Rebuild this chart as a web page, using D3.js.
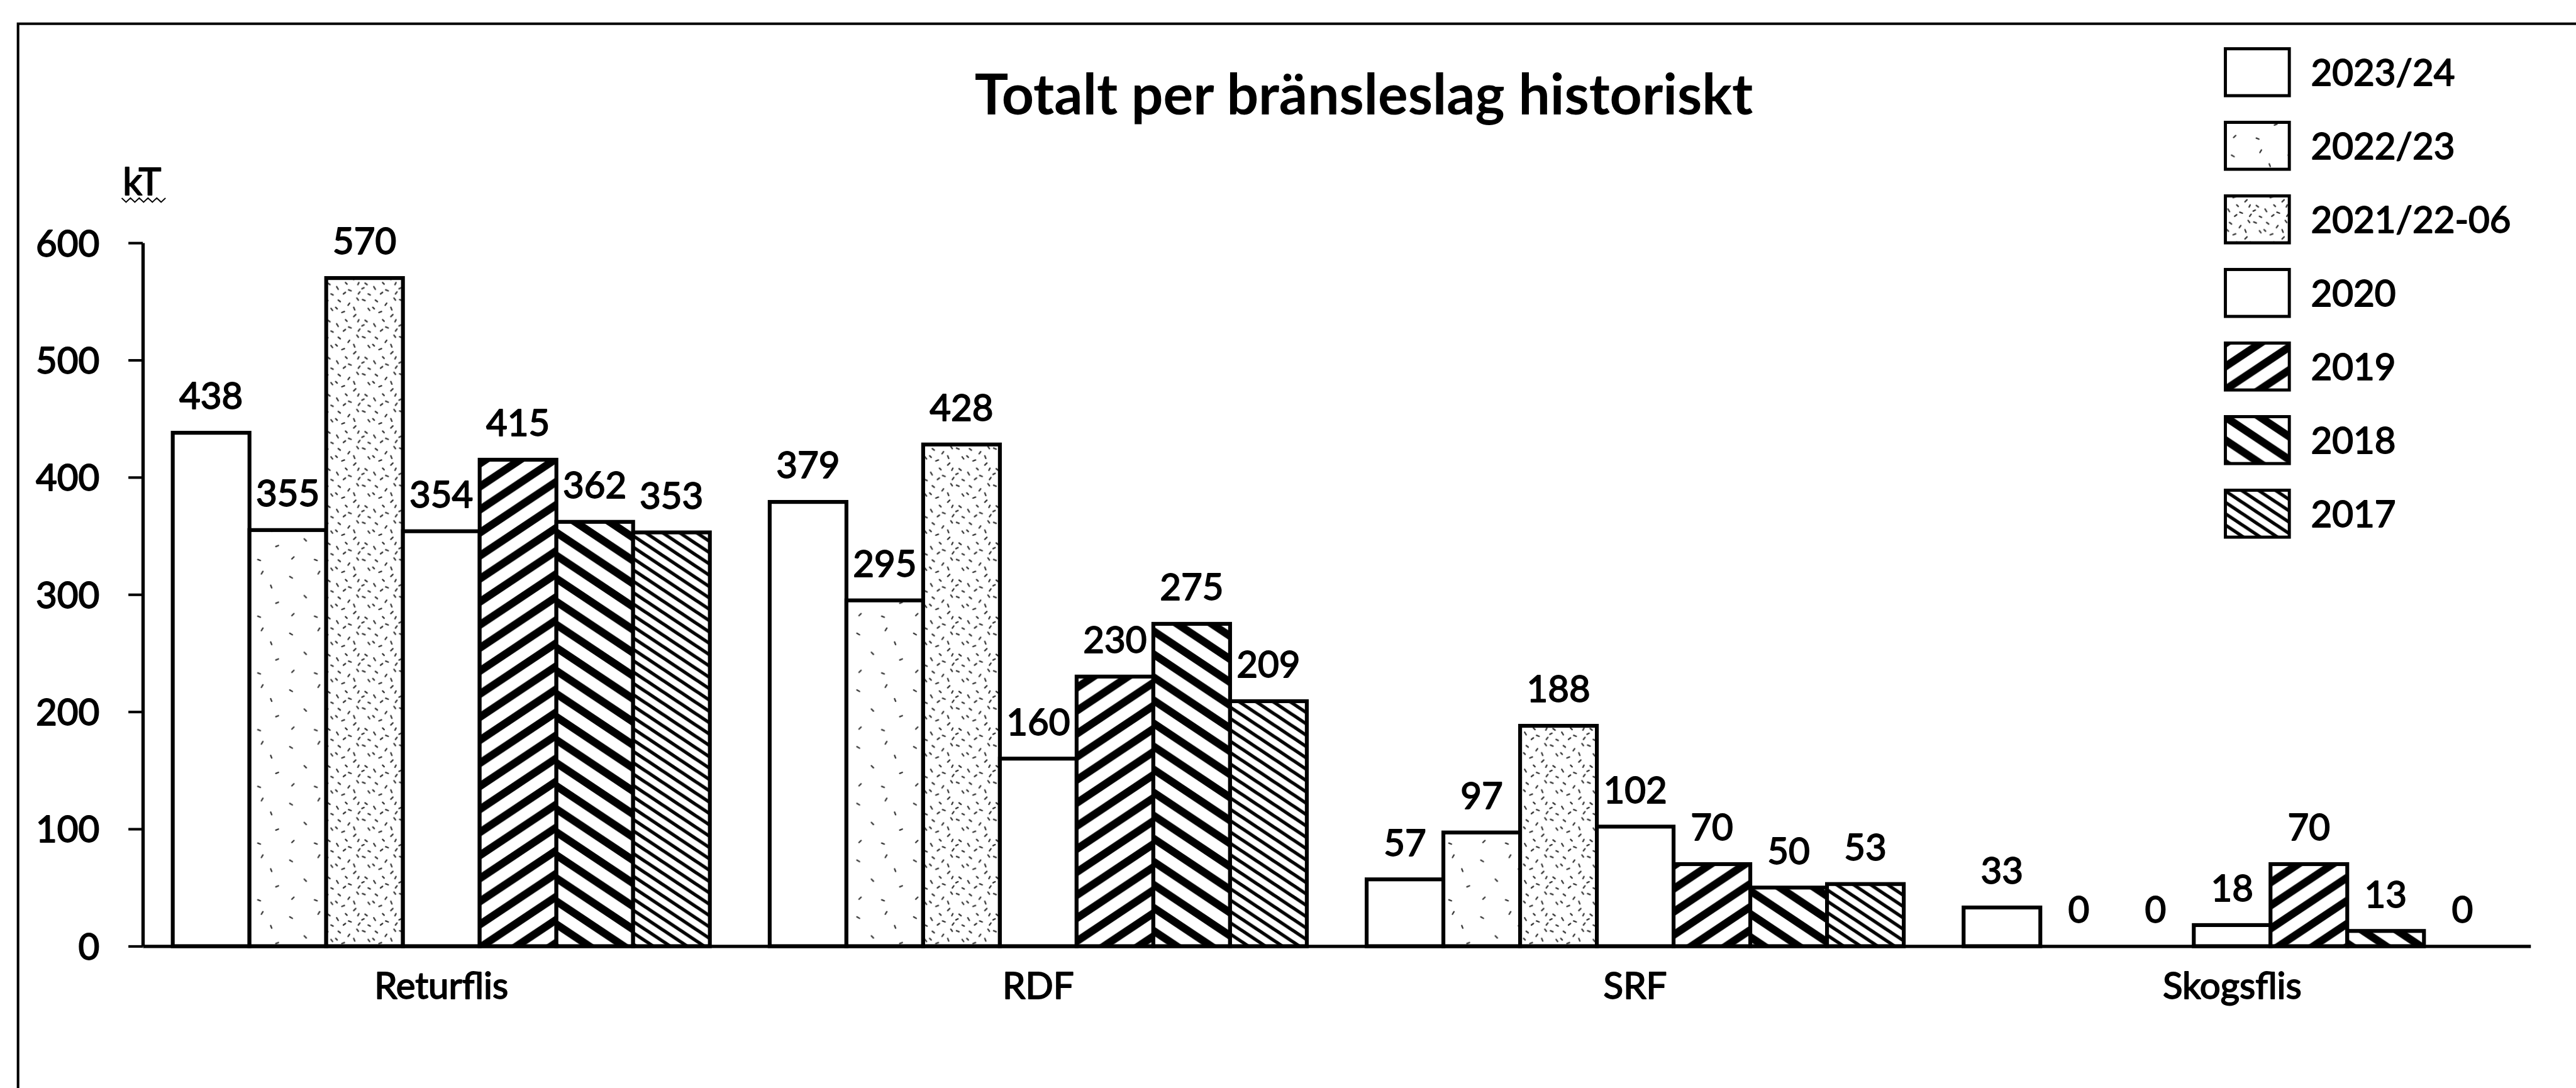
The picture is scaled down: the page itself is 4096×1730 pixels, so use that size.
<!DOCTYPE html>
<html><head><meta charset="utf-8">
<script src="https://cdn.jsdelivr.net/npm/d3@7"></script>
<style>html,body{margin:0;padding:0;background:#fff;overflow:hidden}</style>
</head><body><div id="chart"></div>
<script>
// ---------- data ----------
const categories = ["Returflis", "RDF", "SRF", "Skogsflis"];
const seriesNames = ["2023/24", "2022/23", "2021/22-06", "2020", "2019", "2018", "2017"];
const v2023_24    = [438, 379, 57, 33];
const v2022_23    = [355, 295, 97, 0];
const v2021_22_06 = [570, 428, 188, 0];
const v2020       = [354, 160, 102, 18];
const v2019       = [415, 230, 70, 70];
const v2018       = [362, 275, 50, 13];
const v2017       = [353, 209, 53, 0];
const yTicks = [0, 100, 200, 300, 400, 500, 600];
const titleText = "Totalt per bränsleslag historiskt";
const unitText = "kT";

const seriesValues = [v2023_24, v2022_23, v2021_22_06, v2020, v2019, v2018, v2017];
const seriesFill = ["white", "url(#speckSparse)", "url(#speckDense)", "white",
                    "url(#wideUp)", "url(#wideDown)", "url(#narrowDown)"];

// ---------- canvas (drawn in reference units, scaled by viewBox) ----------
const W = 4996, H = 2110;
const FONT = "Lato, 'Open Sans', sans-serif";
const svg = d3.select("#chart").append("svg")
  .attr("width", 4096).attr("height", 1730)
  .attr("viewBox", `0 0 ${W} ${H}`)
  .style("display", "block")
  .style("background", "#fff");

function styleText(sel, size) {
  return sel.attr("font-family", FONT).attr("font-size", size).attr("fill", "black")
    .attr("stroke", "black").attr("stroke-width", 2.2).attr("stroke-linejoin", "round");
}

const defs = svg.append("defs");
function stripePattern(id, pv, slope, width, dir) {
  const ph = pv / slope;
  const p = defs.append("pattern").attr("id", id)
    .attr("patternUnits", "userSpaceOnUse")
    .attr("width", ph).attr("height", pv);
  p.append("rect").attr("width", ph).attr("height", pv).attr("fill", "white");
  [0, pv, 2 * pv].forEach(c => {
    const x0 = -ph, x1 = 2 * ph;
    let y0, y1;
    if (dir === "up") { y0 = c - slope * x0; y1 = c - slope * x1; }
    else { y0 = c - pv + slope * x0; y1 = c - pv + slope * x1; }
    p.append("line").attr("x1", x0).attr("y1", y0).attr("x2", x1).attr("y2", y1)
      .attr("stroke", "black").attr("stroke-width", width);
  });
}
stripePattern("wideUp", 44.7, 0.667, 15, "up");
stripePattern("wideDown", 44.7, 0.667, 15, "down");
stripePattern("narrowDown", 22, 0.667, 6.5, "down");

function speckPattern(id, size, marks) {
  const p = defs.append("pattern").attr("id", id)
    .attr("patternUnits", "userSpaceOnUse")
    .attr("width", size).attr("height", size);
  p.append("rect").attr("width", size).attr("height", size).attr("fill", "white");
  marks.forEach(m => p.append("line")
    .attr("x1", m[0]).attr("y1", m[1]).attr("x2", m[0] + m[2]).attr("y2", m[1] + m[3])
    .attr("stroke", "#333").attr("stroke-width", 2.8).attr("stroke-linecap", "round"));
}
speckPattern("speckSparse", 110, [[12,18,5,3],[70,8,-3,5],[40,55,4,4],[95,70,5,-2],[20,90,-4,4],[60,95,5,2],[85,35,2,5]]);
speckPattern("speckDense", 72, [[8,6,4,3],[30,12,-3,4],[55,5,5,2],[66,22,3,4],[15,30,5,-2],[42,34,-4,4],[60,45,4,3],
  [5,52,3,5],[28,58,5,2],[50,62,-3,4],[66,66,4,2],[18,66,4,-3],[38,20,2,5],[58,54,-4,2],[22,44,3,3],[46,48,2,-4],
  [3,20,3,3],[44,2,3,4]]);

// ---------- frame ----------
svg.append("path").attr("d", `M35,${H} V46 H${W}`)
  .attr("fill", "none").attr("stroke", "black").attr("stroke-width", 5);

// ---------- scales ----------
const x0 = d3.scaleBand().domain(categories).range([277, 4908]).paddingInner(0).paddingOuter(0);
const x1 = d3.scaleBand().domain(seriesNames).range([0, x0.bandwidth()]).paddingInner(0).paddingOuter(0.39);
const y = d3.scaleLinear().domain([0, 600]).range([1835, 471]);

// ---------- bars ----------
const groups = svg.append("g").selectAll("g").data(seriesNames).join("g");
groups.each(function(s, si) {
  const g = d3.select(this);
  const rows = categories.map((c, ci) => ({ c, v: seriesValues[si][ci] }));
  g.selectAll("rect").data(rows.filter(d => d.v > 0)).join("rect")
    .attr("x", d => x0(d.c) + x1(s))
    .attr("y", d => y(d.v))
    .attr("width", x1.bandwidth())
    .attr("height", d => y(0) - y(d.v))
    .attr("fill", seriesFill[si])
    .attr("stroke", "black").attr("stroke-width", 7.5);
  styleText(g.selectAll("text").data(rows).join("text")
    .attr("x", d => x0(d.c) + x1(s) + x1.bandwidth() / 2)
    .attr("y", d => y(d.v) - 46)
    .attr("text-anchor", "middle"), 71)
    .text(d => d.v);
});

// ---------- axes ----------
const yAxis = svg.append("g").attr("transform", "translate(277,0)")
  .call(d3.axisLeft(y).tickValues(yTicks).tickSize(28).tickSizeOuter(0).tickPadding(56));
yAxis.select(".domain").attr("stroke", "black").attr("stroke-width", 6.5);
yAxis.selectAll(".tick line").attr("stroke", "black").attr("stroke-width", 5);
styleText(yAxis.selectAll(".tick text"), 71).attr("dy", "0.36em");

const xAxis = svg.append("g").attr("transform", "translate(0,1835)")
  .call(d3.axisBottom(x0).tickSize(0).tickSizeOuter(0));
xAxis.select(".domain").attr("stroke", "black").attr("stroke-width", 6.5);
styleText(xAxis.selectAll(".tick text"), 71).attr("y", 102).attr("dy", 0);

// unit label
styleText(svg.append("text").attr("x", 238).attr("y", 378), 74).text(unitText);
svg.append("path")
  .attr("d", d3.range(0, 11).map((i) => `${i ? "L" : "M"}${236 + i * 8.5},${i % 2 ? 392 : 384}`).join(""))
  .attr("fill", "none").attr("stroke", "black").attr("stroke-width", 2.5);

// ---------- title ----------
const title = svg.append("text").attr("x", 2645).attr("y", 222)
  .attr("text-anchor", "middle").attr("font-family", FONT).attr("font-weight", 700)
  .attr("font-size", 100).attr("fill", "black").text(titleText);
const tw = title.node().getComputedTextLength();
title.attr("font-size", 100 * 1509 / tw);

// ---------- legend ----------
const legend = svg.append("g").selectAll("g").data(seriesNames).join("g")
  .attr("transform", (d, i) => `translate(4316,${140 + i * 142.7})`);
legend.append("rect").attr("x", 0).attr("y", -45.5).attr("width", 124).attr("height", 91)
  .attr("fill", (d, i) => seriesFill[i]).attr("stroke", "black").attr("stroke-width", 6);
styleText(legend.append("text").attr("x", 166).attr("y", 26), 71).text(d => d);
</script>
</body></html>
